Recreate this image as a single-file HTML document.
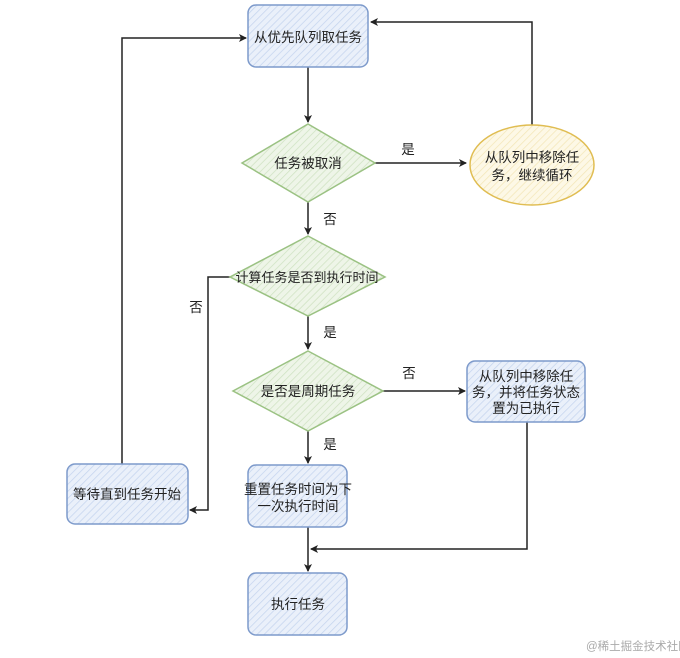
<!DOCTYPE html>
<html><head><meta charset="utf-8"><style>
html,body{margin:0;padding:0;background:#fff;}
svg{display:block;}
text{font-family:"Liberation Sans","Noto Sans CJK SC",sans-serif;font-size:13.5px;fill:#222;}
</style></head><body>
<svg width="680" height="658" viewBox="0 0 680 658" xmlns="http://www.w3.org/2000/svg">
<defs>
<pattern id="hb" width="5" height="5" patternUnits="userSpaceOnUse" patternTransform="rotate(45)">
<rect width="5" height="5" fill="#eaf0fa"/><line x1="0" y1="0" x2="0" y2="5" stroke="#c5d4ee" stroke-width="1.5"/></pattern>
<pattern id="hg" width="5" height="5" patternUnits="userSpaceOnUse" patternTransform="rotate(45)">
<rect width="5" height="5" fill="#eef5e8"/><line x1="0" y1="0" x2="0" y2="5" stroke="#cfe2c2" stroke-width="1.5"/></pattern>
<pattern id="hy" width="5" height="5" patternUnits="userSpaceOnUse" patternTransform="rotate(45)">
<rect width="5" height="5" fill="#fdf8e6"/><line x1="0" y1="0" x2="0" y2="5" stroke="#f3e6b8" stroke-width="1.5"/></pattern>
<marker id="a" markerWidth="10" markerHeight="10" refX="8" refY="5" orient="auto" markerUnits="userSpaceOnUse">
<path d="M1,1 L9,5 L1,9 L3,5 Z" fill="#222"/></marker>
</defs>
<g stroke="#222" stroke-width="1.5" fill="none">
<path d="M308,67 V122" marker-end="url(#a)"/>
<path d="M375,163 H466" marker-end="url(#a)"/>
<path d="M532,125 V22 H371" marker-end="url(#a)"/>
<path d="M308,202 V234" marker-end="url(#a)"/>
<path d="M230,277 H208 V510 H190" marker-end="url(#a)"/>
<path d="M308,316 V349" marker-end="url(#a)"/>
<path d="M383,391 H465" marker-end="url(#a)"/>
<path d="M308,431 V463" marker-end="url(#a)"/>
<path d="M308,527 V571" marker-end="url(#a)"/>
<path d="M527,422 V549 H311" marker-end="url(#a)"/>
<path d="M122,464 V38 H246" marker-end="url(#a)"/>
</g>
<g stroke="#7d9acb" stroke-width="1.5" fill="url(#hb)">
<rect x="248" y="5" width="120" height="62" rx="8"/>
<rect x="467" y="361" width="118" height="61" rx="8"/>
<rect x="248" y="465" width="99" height="62" rx="8"/>
<rect x="67" y="464" width="121" height="60" rx="8"/>
<rect x="248" y="573" width="99" height="62" rx="8"/>
</g>
<g stroke="#9bc283" stroke-width="1.5" fill="url(#hg)">
<path d="M308,124 L375,163 L308,202 L242,163 Z"/>
<path d="M308,236 L385,277 L308,316 L230,277 Z"/>
<path d="M308,351 L383,391 L308,431 L233,391 Z"/>
</g>
<ellipse cx="532" cy="165" rx="62" ry="40" stroke="#e0bd52" stroke-width="1.5" fill="url(#hy)"/>
<g text-anchor="middle">
<text x="308" y="42">从优先队列取任务</text>
<text x="308" y="168">任务被取消</text>
<text x="532" y="162">从队列中移除任</text>
<text x="532" y="180">务，继续循环</text>
<text x="307" y="282" style="font-size:13px">计算任务是否到执行时间</text>
<text x="308" y="396">是否是周期任务</text>
<text x="526" y="381">从队列中移除任</text>
<text x="526" y="397">务，并将任务状态</text>
<text x="526" y="413">置为已执行</text>
<text x="298" y="494">重置任务时间为下</text>
<text x="298" y="511">一次执行时间</text>
<text x="127" y="499">等待直到任务开始</text>
<text x="298" y="609">执行任务</text>
<text x="408" y="154">是</text>
<text x="330" y="224">否</text>
<text x="196" y="312">否</text>
<text x="330" y="337">是</text>
<text x="409" y="378">否</text>
<text x="330" y="449">是</text>
</g>
<text x="586" y="650" style="font-size:11.5px;fill:#aaa">@稀土掘金技术社区</text>
</svg>
</body></html>
